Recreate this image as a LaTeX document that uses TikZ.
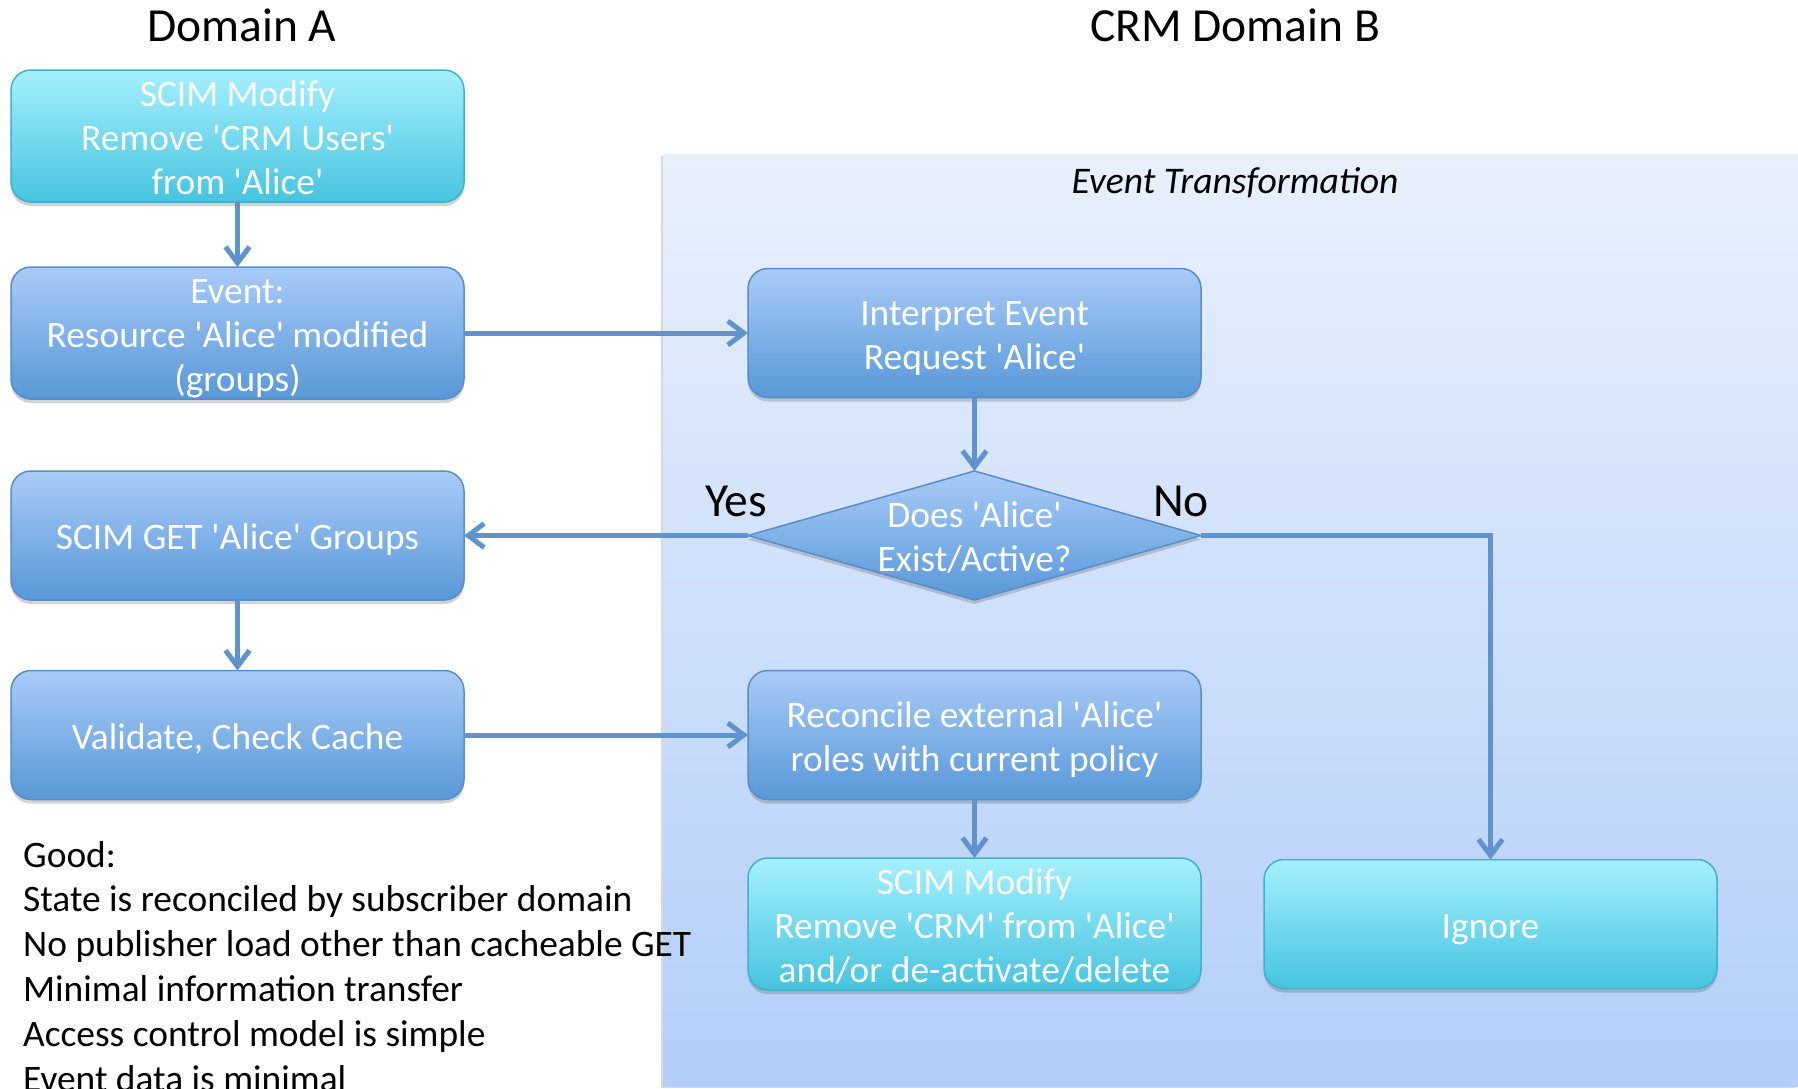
\documentclass[tikz,border=0pt]{standalone}
\usepackage{fontspec}
\setmainfont{Carlito}
\usetikzlibrary{arrows.meta,shapes.geometric,shadows}

\definecolor{flowline}{HTML}{5E93CD}
\definecolor{blueTop}{HTML}{A9CBF8}
\definecolor{blueBot}{HTML}{5898D8}
\definecolor{blueEdge}{HTML}{5A8CC6}
\definecolor{cyanTop}{HTML}{A5F0FD}
\definecolor{cyanBot}{HTML}{46C4DF}
\definecolor{cyanEdge}{HTML}{40B0CC}
\definecolor{panelTop}{HTML}{E9F0FC}
\definecolor{panelBot}{HTML}{B2CEF9}

\newcommand{\qs}{\textquotesingle}
\newcommand{\boxfont}{\fontsize{37.4}{44}\selectfont}
\newcommand{\notefont}{\fontsize{37.4}{44.8}\selectfont}
\newcommand{\headfont}{\fontsize{47.5}{56}\selectfont}
% fixed line struts so every box centres its lines the same way
\newcommand{\ts}{\rule{0pt}{36pt}}
\newcommand{\bs}{\rule[-8pt]{0pt}{8pt}}

\tikzset{
  softshadow/.style={drop shadow={shadow xshift=0pt, shadow yshift=-4pt, opacity=0.25, fill=black!70}},
  stepbase/.style={rounded corners=20pt, minimum width=453pt, minimum height=129pt,
    inner sep=0pt, outer sep=0pt, line width=1.5pt, text=white, align=center,
    font=\boxfont, softshadow},
  bluebox/.style={stepbase, draw=blueEdge, top color=blueTop, bottom color=blueBot},
  cyanbox/.style={stepbase, draw=cyanEdge, top color=cyanTop, bottom color=cyanBot},
  decision/.style={diamond, minimum width=453pt, minimum height=129pt, inner sep=0pt,
    outer sep=0pt, line width=1.5pt, draw=blueEdge, top color=blueTop, bottom color=blueBot,
    softshadow},
  flow/.style={draw=flowline, line width=5pt,
    -{Straight Barb[length=16pt,width=24pt]}},
  heading/.style={font=\headfont, anchor=base, inner sep=0pt},
}

\begin{document}
\begin{tikzpicture}[x=1pt,y=-1pt]
\useasboundingbox (0,0) rectangle (1798,1088);

% subscriber side panel
\node (panel) [minimum width=1135pt, minimum height=932pt, inner sep=0pt, outer sep=0pt,
  top color=panelTop, bottom color=panelBot,
  drop shadow={shadow xshift=-2pt, shadow yshift=-2pt, opacity=0.25, fill=black!60}]
  at (1230.5,620) {};
\node (evt) [font=\fontsize{37.6}{44}\selectfont\itshape, anchor=base, inner sep=0pt] at (1235,193) {Event Transformation};

% column headings
\node (hA) [heading] at (242,41) {Domain A};
\node (hB) [heading] at (1235,41) {CRM Domain B};

% publisher side
\node (mod)   [cyanbox] at (237.5,136) {\ts SCIM Modify\\Remove \qs{}CRM Users\qs{}\\from \qs{}Alice\qs{}\bs};
\node (event) [bluebox] at (237.5,333) {\ts Event:\\Resource \qs{}Alice\qs{} modified\\(groups)\bs};
\node (get)   [bluebox] at (237.5,535.5) {\ts SCIM GET \qs{}Alice\qs{} Groups\bs};
\node (val)   [bluebox] at (237.5,735) {\ts Validate, Check Cache\bs};

% subscriber side
\node (interp) [bluebox] at (974.5,333) {\ts Interpret Event\\Request \qs{}Alice\qs{}\bs};
\node (dec) [decision, label={[text=white, align=center, font=\boxfont, inner sep=0pt]center:\ts Does \qs{}Alice\qs{}\\Exist/Active?\bs}] at (974.5,535.5) {};
\node (rec) [bluebox] at (974.5,735) {\ts Reconcile external \qs{}Alice\qs{}\\roles with current policy\bs};
\node (mod2) [cyanbox] at (974.5,924) {\ts SCIM Modify\\Remove \qs{}CRM\qs{} from \qs{}Alice\qs{}\\and/or de-activate/delete\bs};
\node (ign) [cyanbox] at (1490.5,924) {\ts Ignore\bs};

% branch labels
\node (yes) [heading] at (736,516) {Yes};
\node (no)  [heading] at (1181,516) {No};

% connectors
\draw[flow] (mod) -- (event);
\draw[flow] (event) -- (interp);
\draw[flow] (interp) -- (dec);
\draw[flow] (dec.west) -- (get.east);
\draw[flow] (dec.east) -| (ign.north);
\draw[flow] (get) -- (val);
\draw[flow] (val) -- (rec);
\draw[flow] (rec) -- (mod2);

% notes
\node (notes) [anchor=north west, align=left, font=\notefont, inner sep=0pt]
  at (23,841) {Good:\\State is reconciled by subscriber domain\\No publisher load other than cacheable GET\\Minimal information transfer\\Access control model is simple\\Event data is minimal};
\end{tikzpicture}
\end{document}
